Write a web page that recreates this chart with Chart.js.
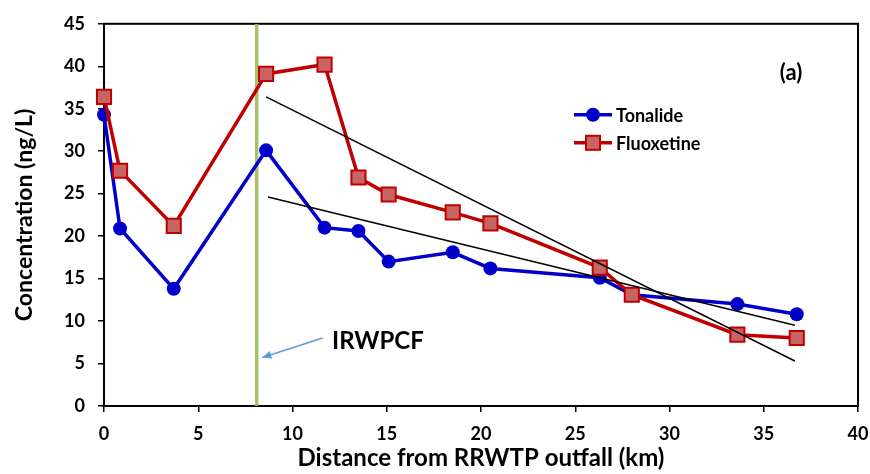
<!DOCTYPE html>
<html><head><meta charset="utf-8">
<script src="https://cdn.jsdelivr.net/npm/chart.js@4"></script>
<style>html,body{margin:0;padding:0;background:#fff}#wrap{width:870px;height:474px}</style>
</head><body><div id="wrap"><canvas id="c" width="870" height="474"></canvas></div>
<script>
const distanceKm = [0, 0.85, 3.7, 8.6, 11.7, 13.5, 15.1, 18.5, 20.5, 26.3, 28.0, 33.6, 36.75];
const tonalide   = [34.3, 20.9, 13.8, 30.1, 21.0, 20.6, 17.0, 18.1, 16.2, 15.1, 13.1, 12.0, 10.8];
const fluoxetine = [36.4, 27.7, 21.2, 39.1, 40.2, 26.9, 24.9, 22.8, 21.5, 16.3, 13.1, 8.4, 8.0];
const tonalideTrend   = [[8.7, 24.6], [36.65, 9.5]];
const fluoxetineTrend = [[8.6, 36.4], [36.65, 5.3]];
const irwpcfKm = 8.1;
const arrowFrom = [11.6, 8.0];
const arrowTo = [8.4, 5.7];
const labelAt = [12.1, 7.6];
const xTicks = [0, 5, 10, 15, 20, 25, 30, 35, 40];
const yTicks = [0, 5, 10, 15, 20, 25, 30, 35, 40, 45];

const FONT = 'Lato, "Open Sans", sans-serif';
const BLUE = '#0000c8', RED = '#c00000', RFILL = '#c86464';

const pts = (xs, ys) => xs.map((x, i) => ({x, y: ys[i]}));
const pairs = p => p.map(([x, y]) => ({x, y}));

const extras = {
  id: 'extras',
  afterDraw(chart) {
    const {ctx, chartArea: a, scales: {x, y}} = chart;
    ctx.save();
    // arrow
    const x1 = x.getPixelForValue(arrowFrom[0]), y1 = y.getPixelForValue(arrowFrom[1]);
    const x2 = x.getPixelForValue(arrowTo[0]), y2 = y.getPixelForValue(arrowTo[1]);
    ctx.strokeStyle = '#5b9bd5'; ctx.fillStyle = '#5b9bd5'; ctx.lineWidth = 1.5;
    ctx.beginPath(); ctx.moveTo(x1, y1); ctx.lineTo(x2, y2); ctx.stroke();
    const ang = Math.atan2(y2 - y1, x2 - x1), L = 9, W = 4;
    ctx.beginPath();
    ctx.moveTo(x2, y2);
    ctx.lineTo(x2 - L*Math.cos(ang) + W*Math.sin(ang), y2 - L*Math.sin(ang) - W*Math.cos(ang));
    ctx.lineTo(x2 - L*Math.cos(ang) - W*Math.sin(ang), y2 - L*Math.sin(ang) + W*Math.cos(ang));
    ctx.closePath(); ctx.fill();
    // texts
    ctx.fillStyle = '#000';
    ctx.font = 'bold 24px ' + FONT;
    ctx.textBaseline = 'middle'; ctx.textAlign = 'left';
    ctx.fillText('IRWPCF', x.getPixelForValue(labelAt[0]), y.getPixelForValue(labelAt[1]));
    ctx.textAlign = 'center';
    ctx.font = 'bold 22px ' + FONT;
    ctx.fillText('(a)', a.left + 687, a.top + 49);
    // legend
    const items = [
      {t: 'Tonalide', c: BLUE, f: BLUE, s: 'circle', yy: a.top + 91},
      {t: 'Fluoxetine', c: RED, f: RFILL, s: 'rect', yy: a.top + 119}
    ];
    ctx.font = 'bold 18px ' + FONT; ctx.textAlign = 'left';
    items.forEach(it => {
      const lx = a.left + 470, rx = a.left + 508, cx = (lx + rx) / 2;
      ctx.strokeStyle = it.c; ctx.lineWidth = 3.5;
      ctx.beginPath(); ctx.moveTo(lx, it.yy); ctx.lineTo(rx, it.yy); ctx.stroke();
      ctx.fillStyle = it.f; ctx.lineWidth = 2;
      if (it.s === 'circle') { ctx.beginPath(); ctx.arc(cx, it.yy, 7, 0, Math.PI*2); ctx.fill(); }
      else { ctx.fillRect(cx-7, it.yy-7, 14, 14); ctx.strokeRect(cx-7, it.yy-7, 14, 14); }
      ctx.fillStyle = '#000';
      ctx.fillText(it.t, rx + 4, it.yy + 1);
    });
    ctx.restore();
  },
  beforeDatasetsDraw(chart) {
    const {ctx, chartArea: a} = chart;
    ctx.save();
    ctx.strokeStyle = '#000'; ctx.lineWidth = 2;
    ctx.strokeRect(a.left, a.top, a.right - a.left, a.bottom - a.top);
    ctx.restore();
  }
};

new Chart(document.getElementById('c'), {
  type: 'scatter',
  data: {
    datasets: [
      {label: 'IRWPCF', data: [{x: irwpcfKm, y: 0}, {x: irwpcfKm, y: 45}], showLine: true,
       borderColor: 'rgba(155,187,89,0.9)', borderWidth: 3.5, pointRadius: 0, order: 5},
      {label: 'Tonalide trend', data: pairs(tonalideTrend), showLine: true, borderColor: '#000', borderWidth: 1.5, pointRadius: 0, order: 1},
      {label: 'Fluoxetine trend', data: pairs(fluoxetineTrend), showLine: true, borderColor: '#000', borderWidth: 1.5, pointRadius: 0, order: 1},
      {label: 'Tonalide', data: pts(distanceKm, tonalide), showLine: true, borderColor: BLUE, borderWidth: 3.5, clip: false,
       pointStyle: 'circle', pointRadius: 7, pointBackgroundColor: BLUE, pointBorderColor: BLUE, pointBorderWidth: 0, order: 3},
      {label: 'Fluoxetine', data: pts(distanceKm, fluoxetine), showLine: true, borderColor: RED, borderWidth: 3.5, clip: false,
       pointStyle: 'rect', pointRadius: 10, pointBackgroundColor: RFILL, pointBorderColor: RED, pointBorderWidth: 2, order: 2}
    ]
  },
  options: {
    responsive: false, animation: false,
    layout: {padding: {left: 0, right: 8, top: 22, bottom: 0}},
    plugins: {legend: {display: false}, tooltip: {enabled: false}},
    scales: {
      x: {
        type: 'linear', min: 0, max: 40,
        afterBuildTicks: s => { s.ticks = xTicks.map(v => ({value: v})); },
        afterFit: s => { s.height = 68; s.paddingRight = 7; s.paddingLeft = 0; },
        border: {color: '#000', width: 2},
        grid: {drawOnChartArea: false, color: '#000', lineWidth: 1.5, tickLength: 6},
        ticks: {color: '#000', font: {family: FONT, size: 18, weight: 'bold'}, padding: 11, maxRotation: 0},
        title: {display: true, text: 'Distance from RRWTP outfall (km)', color: '#000',
                font: {family: FONT, size: 24, weight: 'bold'}, padding: {top: 0, bottom: 1}}
      },
      y: {
        type: 'linear', min: 0, max: 45,
        afterBuildTicks: s => { s.ticks = yTicks.map(v => ({value: v})); },
        afterFit: s => { s.width = 104; },
        border: {color: '#000', width: 2},
        grid: {drawOnChartArea: false, color: '#000', lineWidth: 1.5, tickLength: 6},
        ticks: {color: '#000', font: {family: FONT, size: 18, weight: 'bold'}, padding: 13},
        title: {display: true, text: 'Concentration (ng/L)', color: '#000',
                font: {family: FONT, size: 23, weight: 'bold'}, padding: {top: 11, bottom: 0}}
      }
    }
  },
  plugins: [extras]
});
</script></body></html>
